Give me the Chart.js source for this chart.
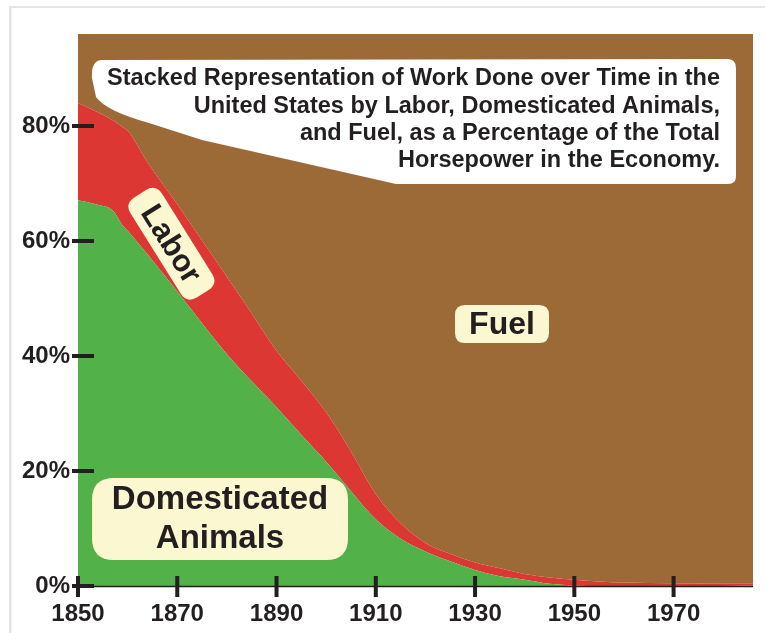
<!DOCTYPE html>
<html><head><meta charset="utf-8">
<script src="https://cdn.jsdelivr.net/npm/chart.js@4/dist/chart.umd.min.js"></script>
<style>html,body{margin:0;padding:0;background:#fff;overflow:hidden}</style>
</head><body>
<canvas id="c" width="765" height="633" style="width:765px;height:633px;display:block"></canvas>
<script>
// ---- data (percent of total horsepower) ----
const years   = [1850,1854,1857,1859,1860,1864,1870,1875,1880,1885,1890,1895,1900,1905,1910,1915,1920,1925,1930,1935,1940,1945,1950,1955,1960,1970,1980,1986];
const animals = [67.1,66.3,65.3,62.7,61.8,57.7,51.2,45.7,40.3,35.6,31.1,26.3,21.6,16.5,11.6, 8.2, 6.0, 4.3, 2.8, 1.7, 1.1, 0.4, 0.1, 0.0, 0.0, 0.0, 0.0, 0.1];
const labor   = [16.9,16.1,15.7,17.1,17.4,16.0,15.2,14.4,13.5,11.8, 9.8, 9.4, 8.6, 6.9, 4.4, 2.7, 1.5, 1.3, 1.3, 1.4, 1.0, 1.1, 1.0, 0.8, 0.6, 0.5, 0.4, 0.3];
const fuel    = [16.0,17.6,19.0,20.2,20.8,26.3,33.6,39.9,46.2,52.6,59.1,64.3,69.8,76.6,84.0,89.1,92.5,94.4,95.9,96.9,97.9,98.5,98.9,99.2,99.4,99.5,99.6,99.6];
const seriesNames = ['Domesticated Animals','Labor','Fuel'];
const xTicks = [1850,1870,1890,1910,1930,1950,1970];
const yTicks = [0,20,40,60,80];
const titleLines = [
  'Stacked Representation of Work Done over Time in the',
  'United States by Labor, Domesticated Animals,',
  'and Fuel, as a Percentage of the Total',
  'Horsepower in the Economy.'
];

const GREEN='#52b148', RED='#dc3733', BROWN='#9c6a37', CREAM='#fbf7d1', INK='#231f20';
const FONT='"Liberation Sans", Arial, sans-serif';

function pts(arr){ return years.map((y,i)=>({x:y,y:arr[i]})); }

function rr(ctx,x,y,w,h,r){
  ctx.beginPath();
  ctx.moveTo(x+r,y); ctx.lineTo(x+w-r,y); ctx.quadraticCurveTo(x+w,y,x+w,y+r);
  ctx.lineTo(x+w,y+h-r); ctx.quadraticCurveTo(x+w,y+h,x+w-r,y+h);
  ctx.lineTo(x+r,y+h); ctx.quadraticCurveTo(x,y+h,x,y+h-r);
  ctx.lineTo(x,y+r); ctx.quadraticCurveTo(x,y,x+r,y); ctx.closePath();
}

const decor = {
  id:'decor',
  beforeDraw(chart){
    const ctx=chart.ctx; ctx.save();
    ctx.fillStyle='#fff'; ctx.fillRect(0,0,chart.width,chart.height);
    ctx.fillStyle='#e4e4e4';
    ctx.fillRect(9,6,chart.width-9,2);
    ctx.fillRect(9,6,2.5,chart.height);
    ctx.restore();
  },
  afterDatasetsDraw(chart){
    const ctx=chart.ctx; ctx.save();
    // title callout
    ctx.fillStyle='#fff';
    ctx.beginPath();
    ctx.moveTo(101,60); ctx.lineTo(727,59); ctx.quadraticCurveTo(736,59,736,68);
    ctx.lineTo(736,176); ctx.quadraticCurveTo(736,184,728,184);
    ctx.lineTo(396,184); ctx.lineTo(202,140); ctx.lineTo(149,123);
    ctx.quadraticCurveTo(106,111,96,97); ctx.lineTo(92,78);
    ctx.quadraticCurveTo(91,61,101,60); ctx.closePath(); ctx.fill();
    ctx.fillStyle=INK; ctx.textAlign='right'; ctx.textBaseline='middle';
    ctx.font='bold 23.5px '+FONT;
    const ly=[79,106.5,134,161];
    titleLines.forEach((t,i)=>ctx.fillText(t,720,ly[i]));
    // Fuel label
    ctx.fillStyle=CREAM; rr(ctx,455,305,94,38,10); ctx.fill();
    ctx.fillStyle=INK; ctx.textAlign='center'; ctx.font='bold 32px '+FONT;
    ctx.fillText(seriesNames[2],502,325);
    // Domesticated Animals label
    ctx.fillStyle=CREAM; rr(ctx,92,478,256,82,22); ctx.fill();
    ctx.fillStyle=INK; ctx.font='bold 33px '+FONT;
    ctx.fillText('Domesticated',220,500);
    ctx.fillText('Animals',220,539);
    // Labor label (rotated)
    ctx.save(); ctx.translate(171,244); ctx.rotate(58*Math.PI/180);
    ctx.fillStyle=CREAM; rr(ctx,-59,-19,118,37,12); ctx.fill();
    ctx.fillStyle=INK; ctx.font='bold 31px '+FONT; ctx.fillText(seriesNames[1],0,1);
    ctx.restore();
    ctx.restore();
  },
  afterDraw(chart){
    const ctx=chart.ctx, a=chart.chartArea, xs=chart.scales.x, ys=chart.scales.y;
    ctx.save();
    ctx.strokeStyle=INK; ctx.lineWidth=1.5;
    ctx.beginPath(); ctx.moveTo(a.left,a.bottom+0.5); ctx.lineTo(a.right,a.bottom+0.5); ctx.stroke();
    ctx.lineWidth=4; ctx.lineCap='butt';
    ys.ticks.forEach(t=>{ const y=ys.getPixelForValue(t.value);
      ctx.beginPath(); ctx.moveTo(a.left-6,y); ctx.lineTo(a.left+16,y); ctx.stroke(); });
    xs.ticks.forEach(t=>{ const x=xs.getPixelForValue(t.value);
      ctx.beginPath(); ctx.moveTo(x,a.bottom-10); ctx.lineTo(x,a.bottom+11); ctx.stroke(); });
    ctx.restore();
  }
};

const common = {pointRadius:0, borderWidth:0, cubicInterpolationMode:'monotone'};
new Chart(document.getElementById('c'), {
  type:'line',
  data:{ datasets:[
    Object.assign({label:seriesNames[0], data:pts(animals), backgroundColor:GREEN, borderColor:GREEN, fill:'origin'},common),
    Object.assign({label:seriesNames[1], data:pts(labor),   backgroundColor:RED,   borderColor:RED,   fill:'-1'},common),
    Object.assign({label:seriesNames[2], data:pts(fuel),    backgroundColor:BROWN, borderColor:BROWN, fill:'-1'},common)
  ]},
  options:{
    responsive:false, animation:false, devicePixelRatio:1,
    layout:{padding:{top:34,right:12,left:0,bottom:0}},
    plugins:{legend:{display:false}, tooltip:{enabled:false}},
    scales:{
      x:{ type:'linear', min:1850, max:1986,
          afterBuildTicks:s=>{ s.ticks = xTicks.map(v=>({value:v})); },
          afterFit:s=>{ s.height=47; },
          grid:{display:false, drawTicks:false}, border:{display:false},
          ticks:{ padding:14, color:INK, font:{family:FONT, weight:'bold', size:24}, callback:v=>String(v), maxRotation:0, autoSkip:false } },
      y:{ stacked:true, min:0, max:96,
          afterBuildTicks:s=>{ s.ticks = yTicks.map(v=>({value:v})); },
          afterFit:s=>{ s.width=78; },
          grid:{display:false, drawTicks:false}, border:{display:false},
          ticks:{ padding:8, color:INK, font:{family:FONT, weight:'bold', size:24}, callback:v=>v+'%' } }
    }
  },
  plugins:[decor]
});
</script>
</body></html>
